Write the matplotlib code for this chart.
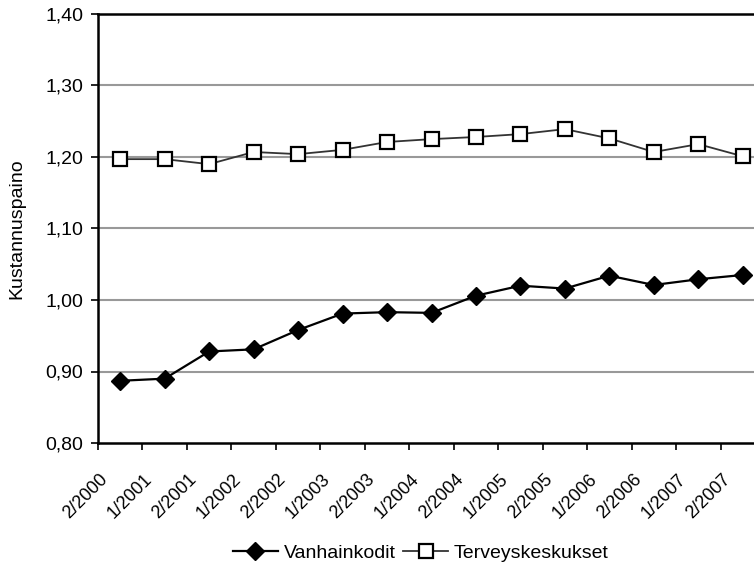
import matplotlib
matplotlib.use("Agg")
import matplotlib.pyplot as plt
import matplotlib.transforms as mtransforms
from matplotlib.ticker import FixedLocator, NullFormatter

plt.rcParams['font.family'] = ['Liberation Sans', 'DejaVu Sans']

periods = ['2/2000', '1/2001', '2/2001', '1/2002', '2/2002', '1/2003', '2/2003',
           '1/2004', '2/2004', '1/2005', '2/2005', '1/2006', '2/2006', '1/2007', '2/2007']
vanhainkodit = [0.887, 0.890, 0.928, 0.931, 0.958, 0.981, 0.983, 0.982,
                1.006, 1.020, 1.016, 1.034, 1.021, 1.029, 1.035]
terveyskeskukset = [1.197, 1.197, 1.190, 1.207, 1.204, 1.210, 1.221, 1.225,
                    1.228, 1.232, 1.239, 1.226, 1.207, 1.218, 1.201]
y_ticks = [0.80, 0.90, 1.00, 1.10, 1.20, 1.30, 1.40]

FS = 14

fig = plt.figure(figsize=(7.54, 5.64), dpi=100)
# plot area is cut off at the right edge in the reference
ax = fig.add_axes([98 / 754, 121 / 564, 667 / 754, 429 / 564])

x = list(range(len(periods)))

ax.plot(x, vanhainkodit, color='black', linewidth=1.6, marker='D', markersize=9,
        markerfacecolor='black', markeredgecolor='black', label='Vanhainkodit', zorder=3)
ax.plot(x, terveyskeskukset, color='#333333', linewidth=1.3, marker='s', markersize=10,
        markerfacecolor='white', markeredgecolor='black', markeredgewidth=1.6,
        label='Terveyskeskukset', zorder=3)

ax.set_xlim(-0.5, len(periods) - 0.5)
ax.set_ylim(0.80, 1.40)
ax.set_yticks(y_ticks)
ax.set_yticklabels([f"{v:.2f}".replace('.', ',') for v in y_ticks], fontsize=FS)

# tick marks between categories, labels at category centres
ax.xaxis.set_major_locator(FixedLocator([i - 0.5 for i in range(len(periods) + 1)]))
ax.xaxis.set_major_formatter(NullFormatter())
ax.xaxis.set_minor_locator(FixedLocator(x))
ax.set_xticklabels(periods, minor=True, rotation=45, ha='right', va='center',
                   rotation_mode='anchor', fontsize=13)
ax.tick_params(axis='x', which='minor', length=0, pad=24.5)
ax.tick_params(axis='x', which='major', length=5, width=1.2, direction='out')
ax.tick_params(axis='y', length=5, width=1.2, direction='out', pad=5.5)
shift = mtransforms.ScaledTranslation(-0.15, 0, fig.dpi_scale_trans)
for lab in ax.get_xticklabels(minor=True):
    lab.set_transform(lab.get_transform() + shift)

for v in y_ticks[1:-1]:
    ax.axhline(v, color='#999999', linewidth=1.5, zorder=1)

for side in ['left', 'bottom', 'top']:
    ax.spines[side].set_linewidth(1.8)
    ax.spines[side].set_color('black')
ax.spines['right'].set_visible(False)

ax.set_ylabel('Kustannuspaino', fontsize=FS)
ax.yaxis.set_label_coords((25 - 98) / 667, 0.5)

fig.legend(loc='center', bbox_to_anchor=(421 / 754, 1 - 553 / 564), ncol=2,
           frameon=False, fontsize=FS, handlelength=2.3, handletextpad=0.3,
           columnspacing=0.4, borderpad=0.1)

fig.savefig('out.png', dpi=100)
